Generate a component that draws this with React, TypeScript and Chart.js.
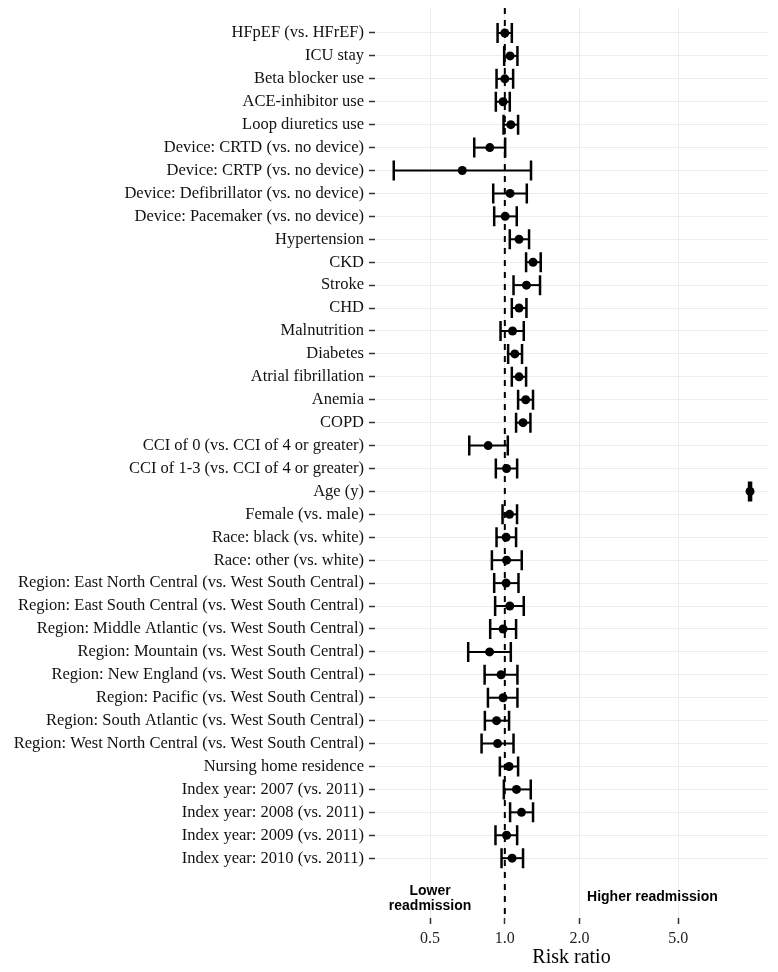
import React, { useEffect, useRef } from "react";
import { Chart, registerables } from "chart.js";

Chart.register(...registerables);

const labels = [
  "HFpEF (vs. HFrEF)",
  "ICU stay",
  "Beta blocker use",
  "ACE-inhibitor use",
  "Loop diuretics use",
  "Device: CRTD (vs. no device)",
  "Device: CRTP (vs. no device)",
  "Device: Defibrillator (vs. no device)",
  "Device: Pacemaker (vs. no device)",
  "Hypertension",
  "CKD",
  "Stroke",
  "CHD",
  "Malnutrition",
  "Diabetes",
  "Atrial fibrillation",
  "Anemia",
  "COPD",
  "CCI of 0 (vs. CCI of 4 or greater)",
  "CCI of 1-3 (vs. CCI of 4 or greater)",
  "Age (y)",
  "Female (vs. male)",
  "Race: black (vs. white)",
  "Race: other (vs. white)",
  "Region: East North Central (vs. West South Central)",
  "Region: East South Central (vs. West South Central)",
  "Region: Middle Atlantic (vs. West South Central)",
  "Region: Mountain (vs. West South Central)",
  "Region: New England (vs. West South Central)",
  "Region: Pacific (vs. West South Central)",
  "Region: South Atlantic (vs. West South Central)",
  "Region: West North Central (vs. West South Central)",
  "Nursing home residence",
  "Index year: 2007 (vs. 2011)",
  "Index year: 2008 (vs. 2011)",
  "Index year: 2009 (vs. 2011)",
  "Index year: 2010 (vs. 2011)",
];

const riskRatio = [
  1.0, 1.05, 1.0, 0.984, 1.057, 0.87, 0.674, 1.05, 1.003, 1.141, 1.299, 1.222,
  1.141, 1.074, 1.097, 1.141, 1.214, 1.184, 0.857, 1.016, 9.72, 1.045, 1.012,
  1.016, 1.012, 1.047, 0.984, 0.868, 0.966, 0.984, 0.926, 0.935, 1.04, 1.114,
  1.167, 1.016, 1.07,
];

const lowerCI = [
  0.935, 0.994, 0.926, 0.92, 0.988, 0.753, 0.357, 0.898, 0.906, 1.047, 1.218,
  1.084, 1.067, 0.961, 1.031, 1.067, 1.131, 1.11, 0.719, 0.92, 9.63, 0.979,
  0.926, 0.887, 0.906, 0.914, 0.873, 0.712, 0.829, 0.855, 0.831, 0.806, 0.955,
  0.991, 1.05, 0.917, 0.97,
];

const upperCI = [
  1.067, 1.124, 1.08, 1.047, 1.131, 1.003, 1.275, 1.226, 1.117, 1.252, 1.395,
  1.386, 1.222, 1.192, 1.173, 1.218, 1.299, 1.268, 1.028, 1.121, 9.81, 1.12,
  1.11, 1.17, 1.135, 1.192, 1.11, 1.057, 1.124, 1.124, 1.04, 1.084, 1.131,
  1.272, 1.299, 1.121, 1.184,
];

const xTickValues = [0.5, 1, 2, 5];
const referenceValue = 1;
const lowerNoteX = 0.5;
const higherNoteX = 3.93;
const noteRow = 37.7;

const SERIF = '"Liberation Serif", "Times New Roman", serif';
const SANS = '"Liberation Sans", Arial, sans-serif';

const forestPlugin = {
  id: "forest",
  beforeDatasetsDraw(chart: any) {
    const { ctx, chartArea } = chart;
    const xs = chart.scales.x;
    const ys = chart.scales.y;
    ctx.save();
    const xr = xs.getPixelForValue(referenceValue);
    ctx.strokeStyle = "#000";
    ctx.lineWidth = 2;
    ctx.setLineDash([6, 6]);
    ctx.beginPath();
    ctx.moveTo(xr, chartArea.top);
    ctx.lineTo(xr, chartArea.bottom);
    ctx.stroke();
    ctx.setLineDash([]);
    for (let i = 0; i < riskRatio.length; i++) {
      const y = ys.getPixelForValue(i);
      const x1 = xs.getPixelForValue(lowerCI[i]);
      const x2 = xs.getPixelForValue(upperCI[i]);
      ctx.lineWidth = 2;
      ctx.beginPath();
      ctx.moveTo(x1, y);
      ctx.lineTo(x2, y);
      ctx.stroke();
      ctx.lineWidth = 2.5;
      ctx.beginPath();
      ctx.moveTo(x1, y - 10);
      ctx.lineTo(x1, y + 10);
      ctx.moveTo(x2, y - 10);
      ctx.lineTo(x2, y + 10);
      ctx.stroke();
    }
    ctx.restore();
  },
  afterDatasetsDraw(chart: any) {
    const { ctx } = chart;
    const xs = chart.scales.x;
    const ys = chart.scales.y;
    ctx.save();
    ctx.fillStyle = "#000";
    ctx.font = `bold 14px ${SANS}`;
    ctx.textAlign = "center";
    ctx.textBaseline = "middle";
    const yc = ys.getPixelForValue(noteRow);
    const xl = xs.getPixelForValue(lowerNoteX);
    ctx.fillText("Lower", xl, yc - 6.5);
    ctx.fillText("readmission", xl, yc + 8.5);
    ctx.fillText("Higher readmission", xs.getPixelForValue(higherNoteX), yc);
    ctx.restore();
  },
};

export default function App() {
  const ref = useRef<HTMLCanvasElement | null>(null);

  useEffect(() => {
    document.body.style.margin = "0";
    const canvas = ref.current;
    if (!canvas) return;
    const chart = new Chart(canvas, {
      type: "scatter",
      data: {
        datasets: [
          {
            data: riskRatio.map((v, i) => ({ x: v, y: i })),
            pointRadius: 4.5,
            pointHoverRadius: 4.5,
            backgroundColor: "#000",
            borderColor: "#000",
            borderWidth: 0,
          },
        ],
      },
      options: {
        responsive: false,
        animation: false,
        events: [],
        layout: { padding: { left: 0, right: 10, top: 8, bottom: 0 } },
        plugins: {
          legend: { display: false },
          tooltip: { enabled: false },
        },
        scales: {
          x: {
            type: "logarithmic",
            min: 0.3033,
            max: 11.48,
            afterBuildTicks: (scale: any) => {
              scale.ticks = xTickValues.map((v) => ({ value: v }));
            },
            afterFit: (scale: any) => {
              scale.height = 54;
              scale.paddingLeft = 0;
              scale.paddingRight = 0;
            },
            border: { display: false },
            grid: {
              color: "#ececec",
              lineWidth: 1,
              tickColor: "#333",
              tickWidth: 1.5,
              tickLength: 6,
              drawTicks: true,
            },
            ticks: {
              autoSkip: false,
              maxRotation: 0,
              padding: 5,
              color: "#222",
              font: { family: SERIF, size: 16 },
              callback: (v: any) => Number(v).toFixed(1),
            },
            title: {
              display: true,
              text: "Risk ratio",
              color: "#000",
              font: { family: SERIF, size: 20 },
              padding: { top: 0, bottom: 2 },
            },
          },
          y: {
            type: "linear",
            reverse: true,
            min: -1.09,
            max: 38.61,
            afterBuildTicks: (scale: any) => {
              scale.ticks = labels.map((_, i) => ({ value: i }));
            },
            afterFit: (scale: any) => {
              scale.width = 375;
              scale.paddingTop = 0;
              scale.paddingBottom = 0;
            },
            border: { display: false },
            grid: {
              color: "#ececec",
              lineWidth: 1,
              tickColor: "#333",
              tickWidth: 1.5,
              tickLength: 6,
              drawTicks: true,
            },
            ticks: {
              autoSkip: false,
              padding: 5,
              color: "#111",
              font: { family: SERIF, size: 16.5 },
              callback: (v: any) => labels[v as number] ?? "",
            },
          },
        },
      },
      plugins: [forestPlugin],
    } as any);
    return () => chart.destroy();
  }, []);

  return <canvas ref={ref} width={778} height={972} style={{ display: "block" }} />;
}
